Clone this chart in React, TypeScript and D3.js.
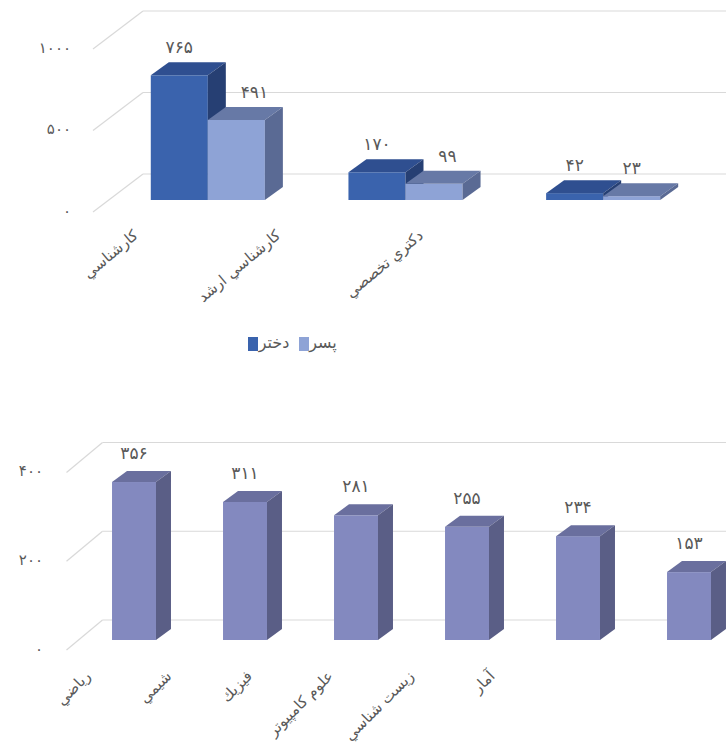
import React from "react";
import * as d3 from "d3";

const W = 726;
const H = 753;

// ---- Top chart data ----
const degreeCategories = ["کارشناسي", "کارشناسي ارشد", "دکتري تخصصي"];
const seriesNames = ["دختر", "پسر"];
const girlsValues = [765, 170, 42];
const boysValues = [491, 99, 23];
const topTicks = [0, 500, 1000];

// ---- Bottom chart data ----
const fieldCategories = ["ریاضي", "شیمي", "فيزيك", "علوم کامپیوتر", "زیست شناسي", "آمار"];
const fieldValues = [356, 311, 281, 255, 234, 153];
const bottomTicks = [0, 200, 400];

const FONT = "'DejaVu Sans', 'Noto Sans', sans-serif";
const TEXT = "#595959";
const GRID = "#d9d9d9";

const fa = (n: number) => String(n).replace(/\d/g, (d) => "۰۱۲۳۴۵۶۷۸۹"[+d]);

type Off = { dx: number; dy: number };
type Colors = { front: string; top: string; side: string };

function Bar3D({ x, w, yTop, yBase, depth, colors }: { x: number; w: number; yTop: number; yBase: number; depth: Off; colors: Colors }) {
  const { dx, dy } = depth;
  const topPts = [[x, yTop], [x + dx, yTop - dy], [x + w + dx, yTop - dy], [x + w, yTop]];
  const sidePts = [[x + w, yTop], [x + w + dx, yTop - dy], [x + w + dx, yBase - dy], [x + w, yBase]];
  return (
    <g>
      <rect x={x} y={yTop} width={w} height={yBase - yTop} fill={colors.front} />
      <polygon points={topPts.map((p) => p.join(",")).join(" ")} fill={colors.top} />
      <polygon points={sidePts.map((p) => p.join(",")).join(" ")} fill={colors.side} />
    </g>
  );
}

function Grid({ ticks, y, x0, front, wall, tickLabelX }: { ticks: number[]; y: d3.ScaleLinear<number, number>; x0: number; front: Off; wall: Off; tickLabelX: number }) {
  return (
    <g>
      {ticks.map((t) => {
        const fy = y(t) - front.dy;
        const fx = x0 + front.dx;
        const wx = x0 + wall.dx;
        const wy = y(t) - wall.dy;
        return (
          <g key={t}>
            <line x1={fx} y1={fy} x2={wx} y2={wy} stroke={GRID} strokeWidth={1.2} />
            <line x1={wx} y1={wy} x2={W} y2={wy} stroke={GRID} strokeWidth={1.2} />
            <text x={tickLabelX} y={fy - 1} textAnchor="end" dominantBaseline="middle" fontSize={15} fill={TEXT} fontFamily={FONT}>
              {fa(t)}
            </text>
          </g>
        );
      })}
    </g>
  );
}

function RotLabel({ x, y, angle, text, size }: { x: number; y: number; angle: number; text: string; size: number }) {
  return (
    <g transform={`translate(${x},${y}) rotate(${angle})`}>
      <text x={0} y={0} direction="rtl" textAnchor="start" fontSize={size} fill={TEXT} fontFamily={FONT}>
        {text}
      </text>
    </g>
  );
}

const darkColors: Colors = { front: "#3a63ad", top: "#2f4f90", side: "#263f73" };
const lightColors: Colors = { front: "#8ea3d6", top: "#6779a6", side: "#5a6a94" };
const purpleColors: Colors = { front: "#8389bf", top: "#6a6f9e", side: "#5a5e86" };

function TopChart() {
  const x0 = 109;
  const x1 = 702;
  const y = d3.scaleLinear().domain([0, 1000]).range([200, 37]);
  const front: Off = { dx: -16, dy: -12 };
  const wall: Off = { dx: 34, dy: 26 };
  const depth: Off = { dx: 18, dy: 13 };
  const pad = 0.4228;
  const xg = d3.scaleBand<string>().domain(degreeCategories).range([x0, x1]).paddingInner(pad).paddingOuter(pad / 2);
  const xs = d3.scaleBand<string>().domain(seriesNames).range([0, xg.bandwidth()]);
  const series = [girlsValues, boysValues];
  const colors = [darkColors, lightColors];

  const bars: any[] = [];
  const labels: any[] = [];
  degreeCategories.forEach((c, ci) => {
    series.forEach((vals, si) => {
      const v = vals[ci];
      const bx = (xg(c) ?? 0) + (xs(seriesNames[si]) ?? 0);
      const bw = xs.bandwidth();
      bars.push(
        <Bar3D key={`b${ci}-${si}`} x={bx} w={bw} yTop={y(v)} yBase={y(0)} depth={depth} colors={colors[si]} />
      );
      let lx = bx + bw / 2;
      const ly = y(v) - 27;
      const txt = fa(v);
      const tw = 9 * txt.length;
      if (si > 0) {
        const prevV = series[si - 1][ci];
        const prevRight = bx + depth.dx;
        const prevTopBack = y(prevV) - depth.dy;
        if (ly + 6 > prevTopBack && lx - tw / 2 < prevRight + 15) {
          lx = prevRight + 15 + tw / 2;
        }
      }
      labels.push(
        <text key={`l${ci}-${si}`} x={lx} y={ly} textAnchor="middle" dominantBaseline="middle" fontSize={17} fill={TEXT} fontFamily={FONT}>
          {txt}
        </text>
      );
    });
  });

  const catLabels = degreeCategories.map((c) => {
    const cx = (xg(c) ?? 0) + xg.bandwidth() / 2;
    return <RotLabel key={c} x={0.7215 * cx - 11} y={237} angle={-40} text={c} size={15} />;
  });

  return (
    <g>
      <Grid ticks={topTicks} y={y} x0={x0} front={front} wall={wall} tickLabelX={71} />
      {bars}
      {labels}
      {catLabels}
      <g fontFamily={FONT} fontSize={16} fill={TEXT}>
        <rect x={248} y={337} width={10} height={14} fill={darkColors.front} />
        <text x={274} y={343} textAnchor="middle" dominantBaseline="middle">{seriesNames[0]}</text>
        <rect x={299} y={337} width={10} height={14} fill={lightColors.front} />
        <text x={323} y={343} textAnchor="middle" dominantBaseline="middle">{seriesNames[1]}</text>
      </g>
    </g>
  );
}

function BottomChart() {
  const x0 = 78.5;
  const x1 = 744.5;
  const y = d3.scaleLinear().domain([0, 400]).range([640, 462.5]);
  const front: Off = { dx: -12, dy: -10 };
  const wall: Off = { dx: 24, dy: 20 };
  const depth: Off = { dx: 15, dy: 11 };
  const pad = 0.604;
  const xb = d3.scaleBand<string>().domain(fieldCategories).range([x0, x1]).paddingInner(pad).paddingOuter(pad / 2);

  return (
    <g>
      <Grid ticks={bottomTicks} y={y} x0={x0} front={front} wall={wall} tickLabelX={43} />
      {fieldCategories.map((c, i) => (
        <Bar3D key={c} x={xb(c) ?? 0} w={xb.bandwidth()} yTop={y(fieldValues[i])} yBase={y(0)} depth={depth} colors={purpleColors} />
      ))}
      {fieldCategories.map((c, i) => (
        <text key={`l${c}`} x={(xb(c) ?? 0) + xb.bandwidth() / 2} y={y(fieldValues[i]) - 28} textAnchor="middle" dominantBaseline="middle" fontSize={17} fill={TEXT} fontFamily={FONT}>
          {fa(fieldValues[i])}
        </text>
      ))}
      {fieldCategories.map((c) => {
        const cx = (xb(c) ?? 0) + xb.bandwidth() / 2;
        return <RotLabel key={`c${c}`} x={0.728 * cx - 6} y={677} angle={-45} text={c} size={15} />;
      })}
    </g>
  );
}

export default function App() {
  return (
    <svg width={W} height={H} style={{ position: "absolute", left: 0, top: 0, background: "#ffffff" }}>
      <rect x={0} y={0} width={W} height={H} fill="#ffffff" />
      <TopChart />
      <BottomChart />
    </svg>
  );
}
